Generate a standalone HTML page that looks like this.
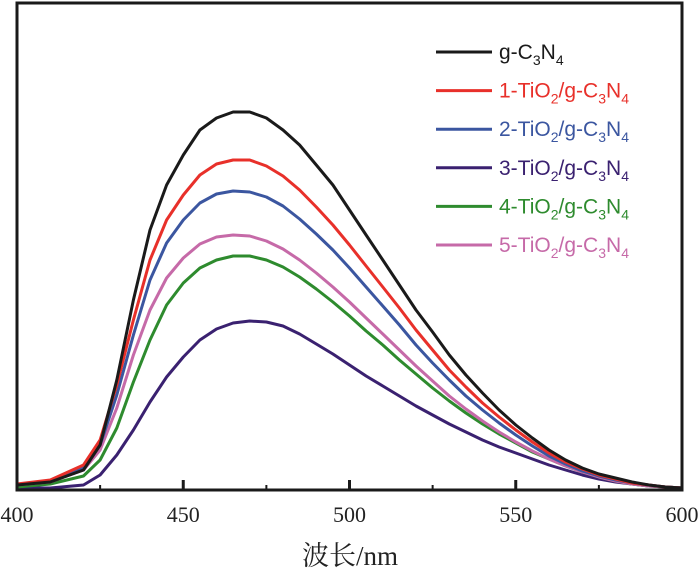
<!DOCTYPE html>
<html><head><meta charset="utf-8"><style>
html,body{margin:0;padding:0;background:#fff;}
svg{display:block;}
</style></head><body>
<svg id="chart" width="700" height="575" viewBox="0 0 700 575" xmlns="http://www.w3.org/2000/svg">
<g id="series"></g>
<rect x="17" y="3" width="665" height="487" fill="none" stroke="#1a1a1a" stroke-width="3"/>
<g id="ticks"></g>
<g id="legend"></g>
<text x="350" y="565" text-anchor="middle" font-family="'Liberation Serif','Noto Serif CJK SC',serif" font-size="27" fill="#222">波长/nm</text>
</svg>
<script>
const wavelengths=[400,410,420,425,430,435,440,445,450,455,460,465,470,475,480,485,490,495,500,505,510,515,520,525,530,535,540,545,550,555,560,565,570,575,580,585,590,595,600];
const gC3N4=[5,8,20,45,110,190,260,305,335,360,372,378,378,372,360,345,325,305,280,255,230,205,180,158,135,115,97,80,65,52,40,30,22,16,12,8,5,3,2];
const tio2_1=[6,10,25,50,105,170,230,270,295,315,326,330,330,324,314,300,283,265,245,224,203,182,160,140,120,103,87,73,60,48,37,28,21,15,11,7,5,3,2];
const tio2_2=[5,9,22,45,95,155,210,247,270,287,296,299,298,293,284,271,256,240,222,203,184,165,145,127,110,94,80,67,55,44,34,26,19,14,10,7,5,3,2];
const tio2_3=[2,2,5,15,35,60,88,113,133,150,161,167,169,168,164,156,146,136,125,114,104,94,84,75,66,58,50,43,37,31,25,20,15,11,8,6,4,3,2];
const tio2_4=[3,6,14,30,62,108,150,185,207,222,230,234,234,230,223,213,201,188,174,159,145,130,116,102,89,77,66,56,47,38,31,24,18,13,9,6,4,3,2];
const tio2_5=[5,8,20,40,82,135,180,212,232,246,253,255,254,249,241,230,217,203,188,172,156,140,124,109,94,81,69,58,48,39,31,24,18,13,9,6,4,3,2];
const seriesNames=["g-C3N4","1-TiO2/g-C3N4","2-TiO2/g-C3N4","3-TiO2/g-C3N4","4-TiO2/g-C3N4","5-TiO2/g-C3N4"];
const xTicks=[400,450,500,550,600];
const xMinor=[425,475,525,575];

const NS="http://www.w3.org/2000/svg";
const X0=17,X1=682,Y0=490,Y1=3;
function xs(v){return X0+(v-400)/(600-400)*(X1-X0);}
function ys(v){return Y0-(v/487)*(Y0-Y1);}
const colors=["#1a1a1a","#e8302a","#3b56a0","#3a2170","#2e8b2e","#c66aa8"];
const data=[gC3N4,tio2_1,tio2_2,tio2_3,tio2_4,tio2_5];
const sg=document.getElementById('series');
const order=[3,4,5,2,1,0];
order.forEach(i=>{
  const p=document.createElementNS(NS,'polyline');
  p.setAttribute('points',wavelengths.map((w,j)=>xs(w).toFixed(1)+','+ys(data[i][j]).toFixed(1)).join(' '));
  p.setAttribute('fill','none');p.setAttribute('stroke',colors[i]);p.setAttribute('stroke-width','3');
  p.setAttribute('stroke-linejoin','round');
  
  
  sg.appendChild(p);
});
const tg=document.getElementById('ticks');
xTicks.forEach(t=>{
  const l=document.createElementNS(NS,'line');
  l.setAttribute('x1',xs(t));l.setAttribute('x2',xs(t));l.setAttribute('y1',Y0);l.setAttribute('y2',Y0-10);
  l.setAttribute('stroke','#1a1a1a');l.setAttribute('stroke-width','3');
  
  
  tg.appendChild(l);
  const tx=document.createElementNS(NS,'text');
  tx.setAttribute('x',xs(t));tx.setAttribute('y',522);tx.setAttribute('text-anchor','middle');
  tx.setAttribute('font-family',"'Liberation Serif',serif");tx.setAttribute('font-size','22');tx.setAttribute('fill','#222');
  tx.textContent=t;
  
  
  tg.appendChild(tx);
});
xMinor.forEach(t=>{
  const l=document.createElementNS(NS,'line');
  l.setAttribute('x1',xs(t));l.setAttribute('x2',xs(t));l.setAttribute('y1',Y0);l.setAttribute('y2',Y0-5);
  l.setAttribute('stroke','#1a1a1a');l.setAttribute('stroke-width','2');
  
  
  tg.appendChild(l);
});
const lg=document.getElementById('legend');
const prefixes=["g-","1-TiO","2-TiO","3-TiO","4-TiO","5-TiO"];
for(let i=0;i<6;i++){
  const y=52+i*38.6;
  const l=document.createElementNS(NS,'line');
  l.setAttribute('x1',436);l.setAttribute('x2',492);l.setAttribute('y1',y);l.setAttribute('y2',y);
  l.setAttribute('stroke',colors[i]);l.setAttribute('stroke-width','3');
  
  
  lg.appendChild(l);
  const t=document.createElementNS(NS,'text');
  t.setAttribute('x',499);t.setAttribute('y',y+7);t.setAttribute('fill',colors[i]);
  t.setAttribute('font-family',"'Liberation Sans',sans-serif");t.setAttribute('font-size','21');
  let html;
  const sub=s=>'<tspan dy="6" font-size="14">'+s+'</tspan>';
  const C3N4='C'+sub('3')+'<tspan dy="-6">N</tspan>'+sub('4')+'<tspan dy="-6"></tspan>';
  if(i===0) html='g-'+C3N4;
  else html=(i)+'-TiO'+sub('2')+'<tspan dy="-6">/g-</tspan>'+C3N4;
  t.innerHTML=html;
  
  
  lg.appendChild(t);
}
</script>
</body></html>
